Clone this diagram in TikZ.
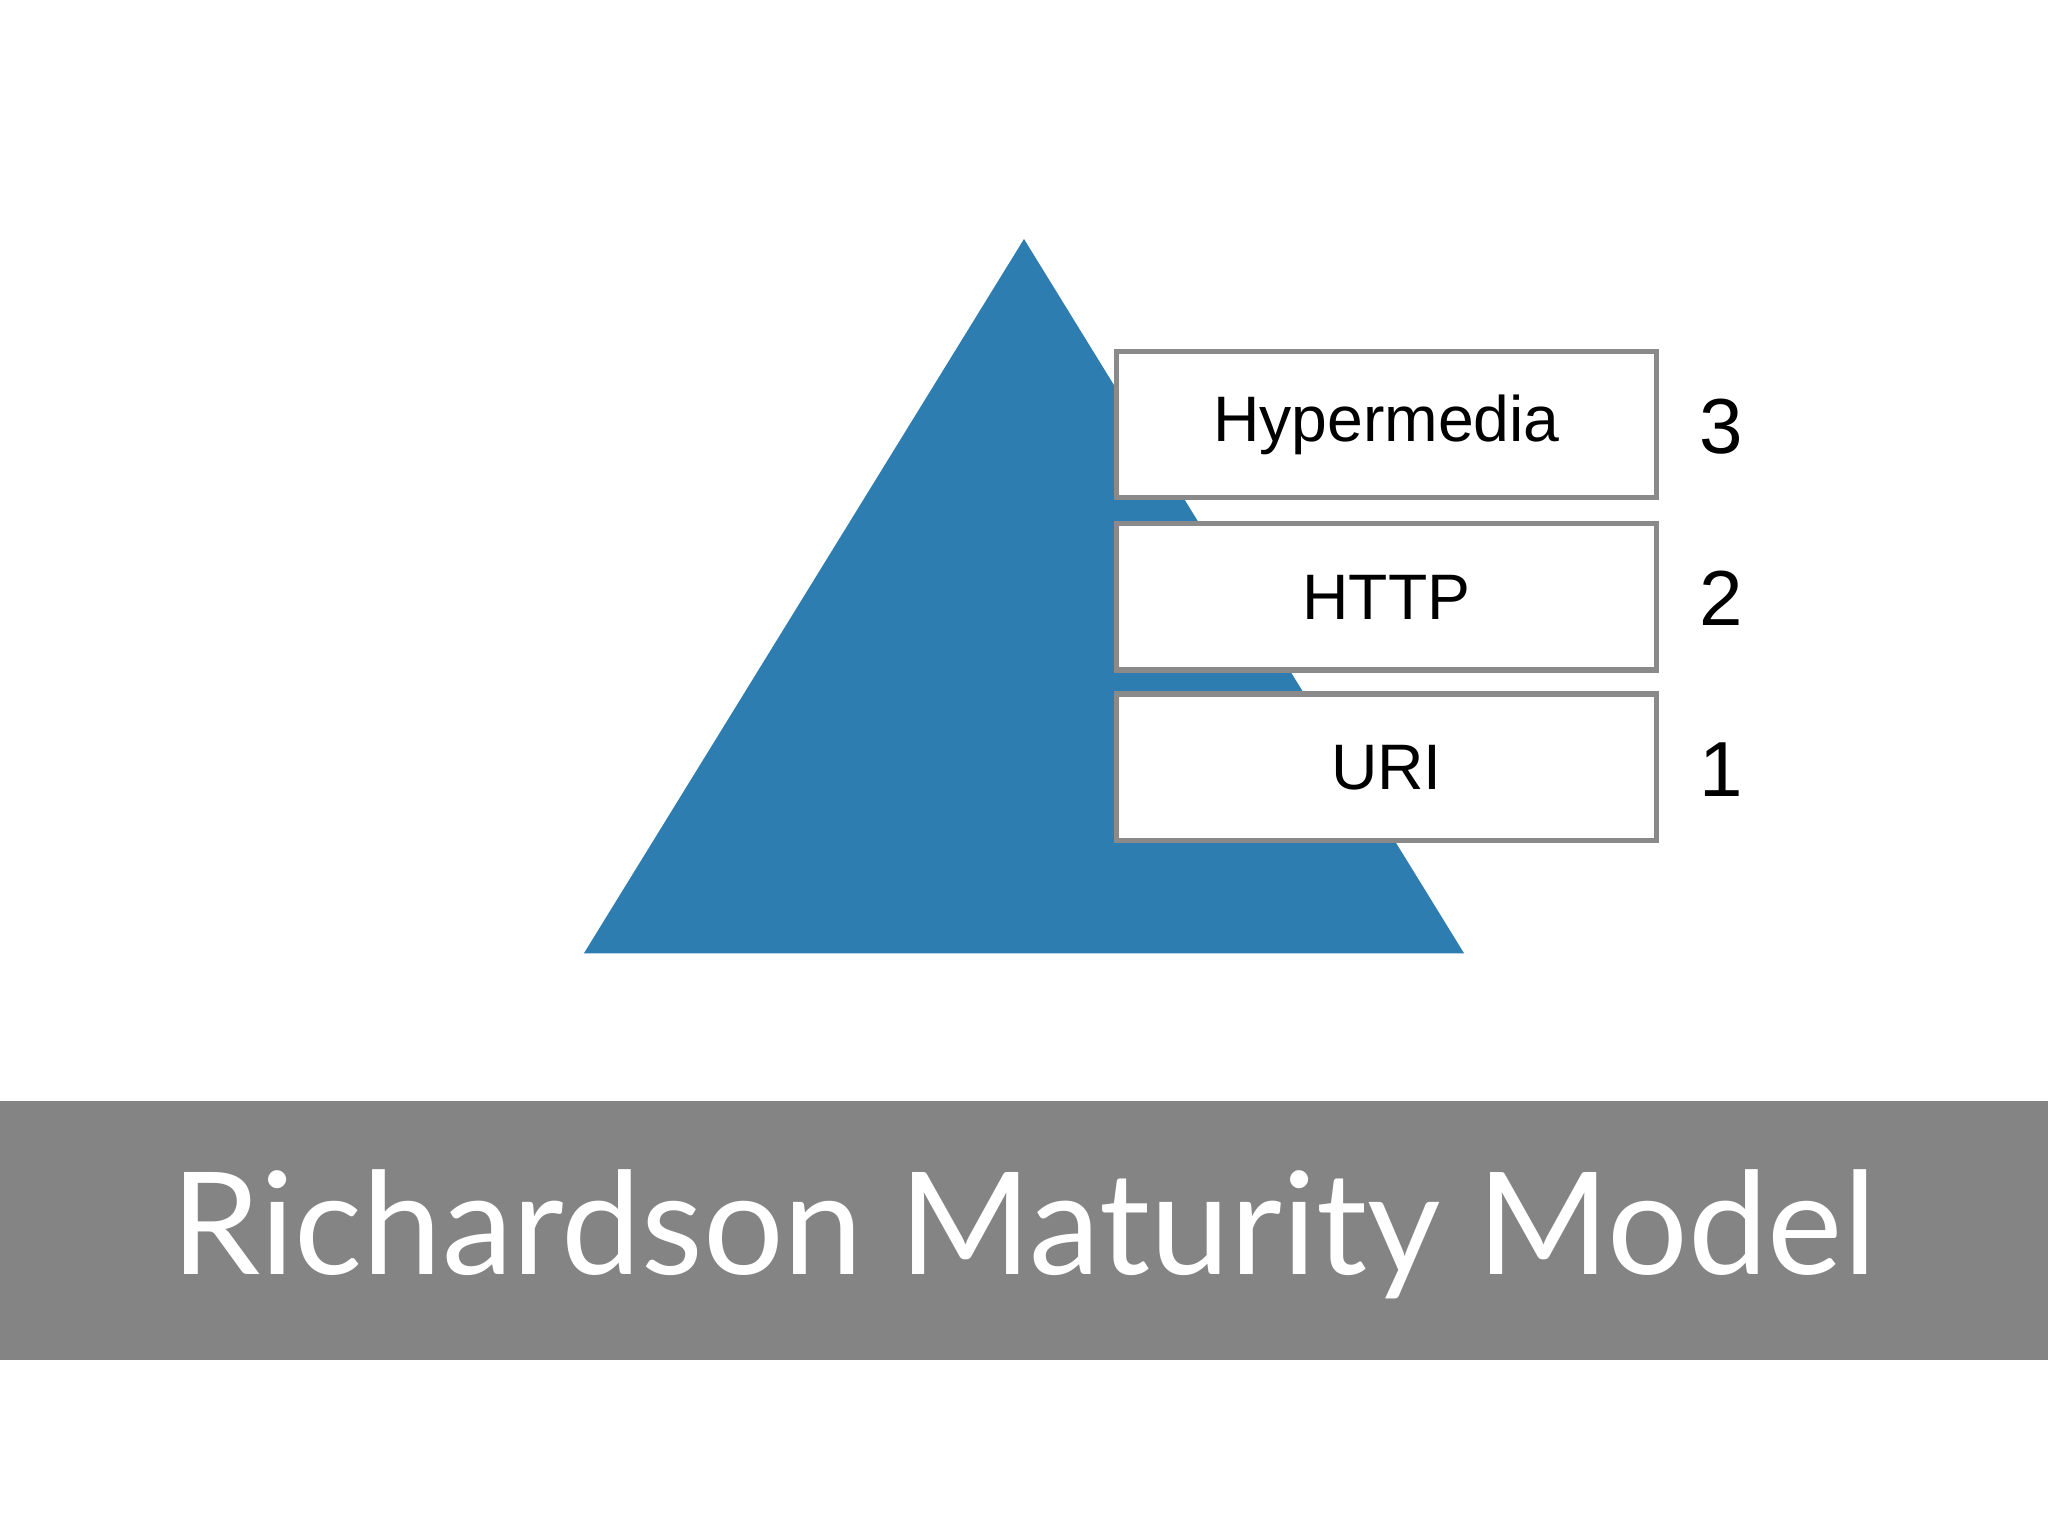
\documentclass[tikz,border=0pt]{standalone}
\usepackage{fontspec}
\setmainfont{Liberation Sans}
\newfontfamily\titlefont{Lato}
\definecolor{pyr}{HTML}{2E7DB0}
\definecolor{band}{HTML}{858485}
\definecolor{bord}{HTML}{8A8A8A}
\begin{document}
\begin{tikzpicture}[x=0.01cm,y=-0.01cm,
  lvl/.style={draw=bord,line width=1.2pt,fill=white,minimum width=4.13cm,minimum height=1.12cm,inner sep=0pt,font=\fontsize{14}{16}\selectfont},
  num/.style={font=\fontsize{17}{19}\selectfont}]
\useasboundingbox (0,0) rectangle (1568,1176);
\fill[white] (0,0) rectangle (1568,1176);
\fill[pyr] (784,183) -- (1121,730) -- (447,730) -- cycle;
\node[lvl] (h) at (1061.5,325) {Hypermedia};
\node[lvl] (t) at (1061.5,457) {HTTP};
\node[lvl] (u) at (1061.5,587.5) {URI};
\node[num] (n3) at (1318,327) {3};
\node[num] (n2) at (1318,458) {2};
\node[num] (n1) at (1318,589) {1};
\fill[band] (0,843) rectangle (1568,1041);
\node[text=white,font=\titlefont\fontsize{31}{36}\selectfont] (title) at (784,945) {Richardson Maturity Model};
\end{tikzpicture}
\end{document}
